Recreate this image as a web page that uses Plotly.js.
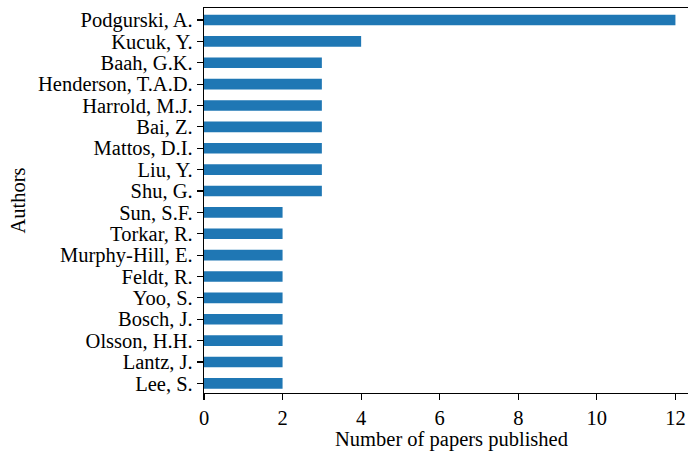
<!DOCTYPE html>
<html>
<head>
<meta charset="utf-8">
<script src="https://cdn.plot.ly/plotly-3.0.1.min.js"></script>
<style>html,body{margin:0;padding:0;background:#fff;overflow:hidden;width:688px;height:451px;}#chart{width:699px;height:451px;}</style>
</head>
<body>
<div id="chart"></div>
<script>
const authors = ["Podgurski, A.", "Kucuk, Y.", "Baah, G.K.", "Henderson, T.A.D.", "Harrold, M.J.", "Bai, Z.", "Mattos, D.I.", "Liu, Y.", "Shu, G.", "Sun, S.F.", "Torkar, R.", "Murphy-Hill, E.", "Feldt, R.", "Yoo, S.", "Bosch, J.", "Olsson, H.H.", "Lantz, J.", "Lee, S."];
const papers = [12, 4, 3, 3, 3, 3, 3, 3, 3, 2, 2, 2, 2, 2, 2, 2, 2, 2];
const xTicks = [0, 2, 4, 6, 8, 10, 12];

const font = {family: "'Liberation Serif', 'Times New Roman', serif", size: 20.5, color: "#000"};

Plotly.newPlot("chart", [{
  type: "bar",
  orientation: "h",
  y: authors,
  x: papers,
  width: 0.5,
  marker: {color: "#1f77b4", line: {width: 0}},
  hoverinfo: "none"
}], {
  width: 699, height: 451,
  margin: {l: 204, r: 0.4, t: 7.5, b: 57.7, pad: 0},
  paper_bgcolor: "#fff", plot_bgcolor: "#fff",
  font: font,
  showlegend: false,
  xaxis: {
    range: [0, 12.6],
    tickvals: xTicks,
    ticktext: xTicks.map(String),
    showgrid: false, zeroline: false,
    showline: true, linecolor: "#000", linewidth: 1.2, mirror: true,
    ticks: "outside", ticklen: 6, tickwidth: 1.2, tickcolor: "#000",
    tickfont: font,
    title: {text: "Number of papers published", font: font, standoff: 4},
    automargin: false
  },
  yaxis: {
    type: "category",
    categoryorder: "array",
    categoryarray: authors,
    tickmode: "array",
    tickvals: authors,
    ticktext: authors,
    range: [17.45, -0.56],
    showgrid: false, zeroline: false,
    showline: true, linecolor: "#000", linewidth: 1.2,
    ticks: "outside", ticklen: 6, tickwidth: 1.2, tickcolor: "#000",
    tickfont: font,
    title: {text: "Authors", font: font, standoff: 6},
    automargin: false
  }
}, {displayModeBar: false, staticPlot: true});
</script>
</body>
</html>
